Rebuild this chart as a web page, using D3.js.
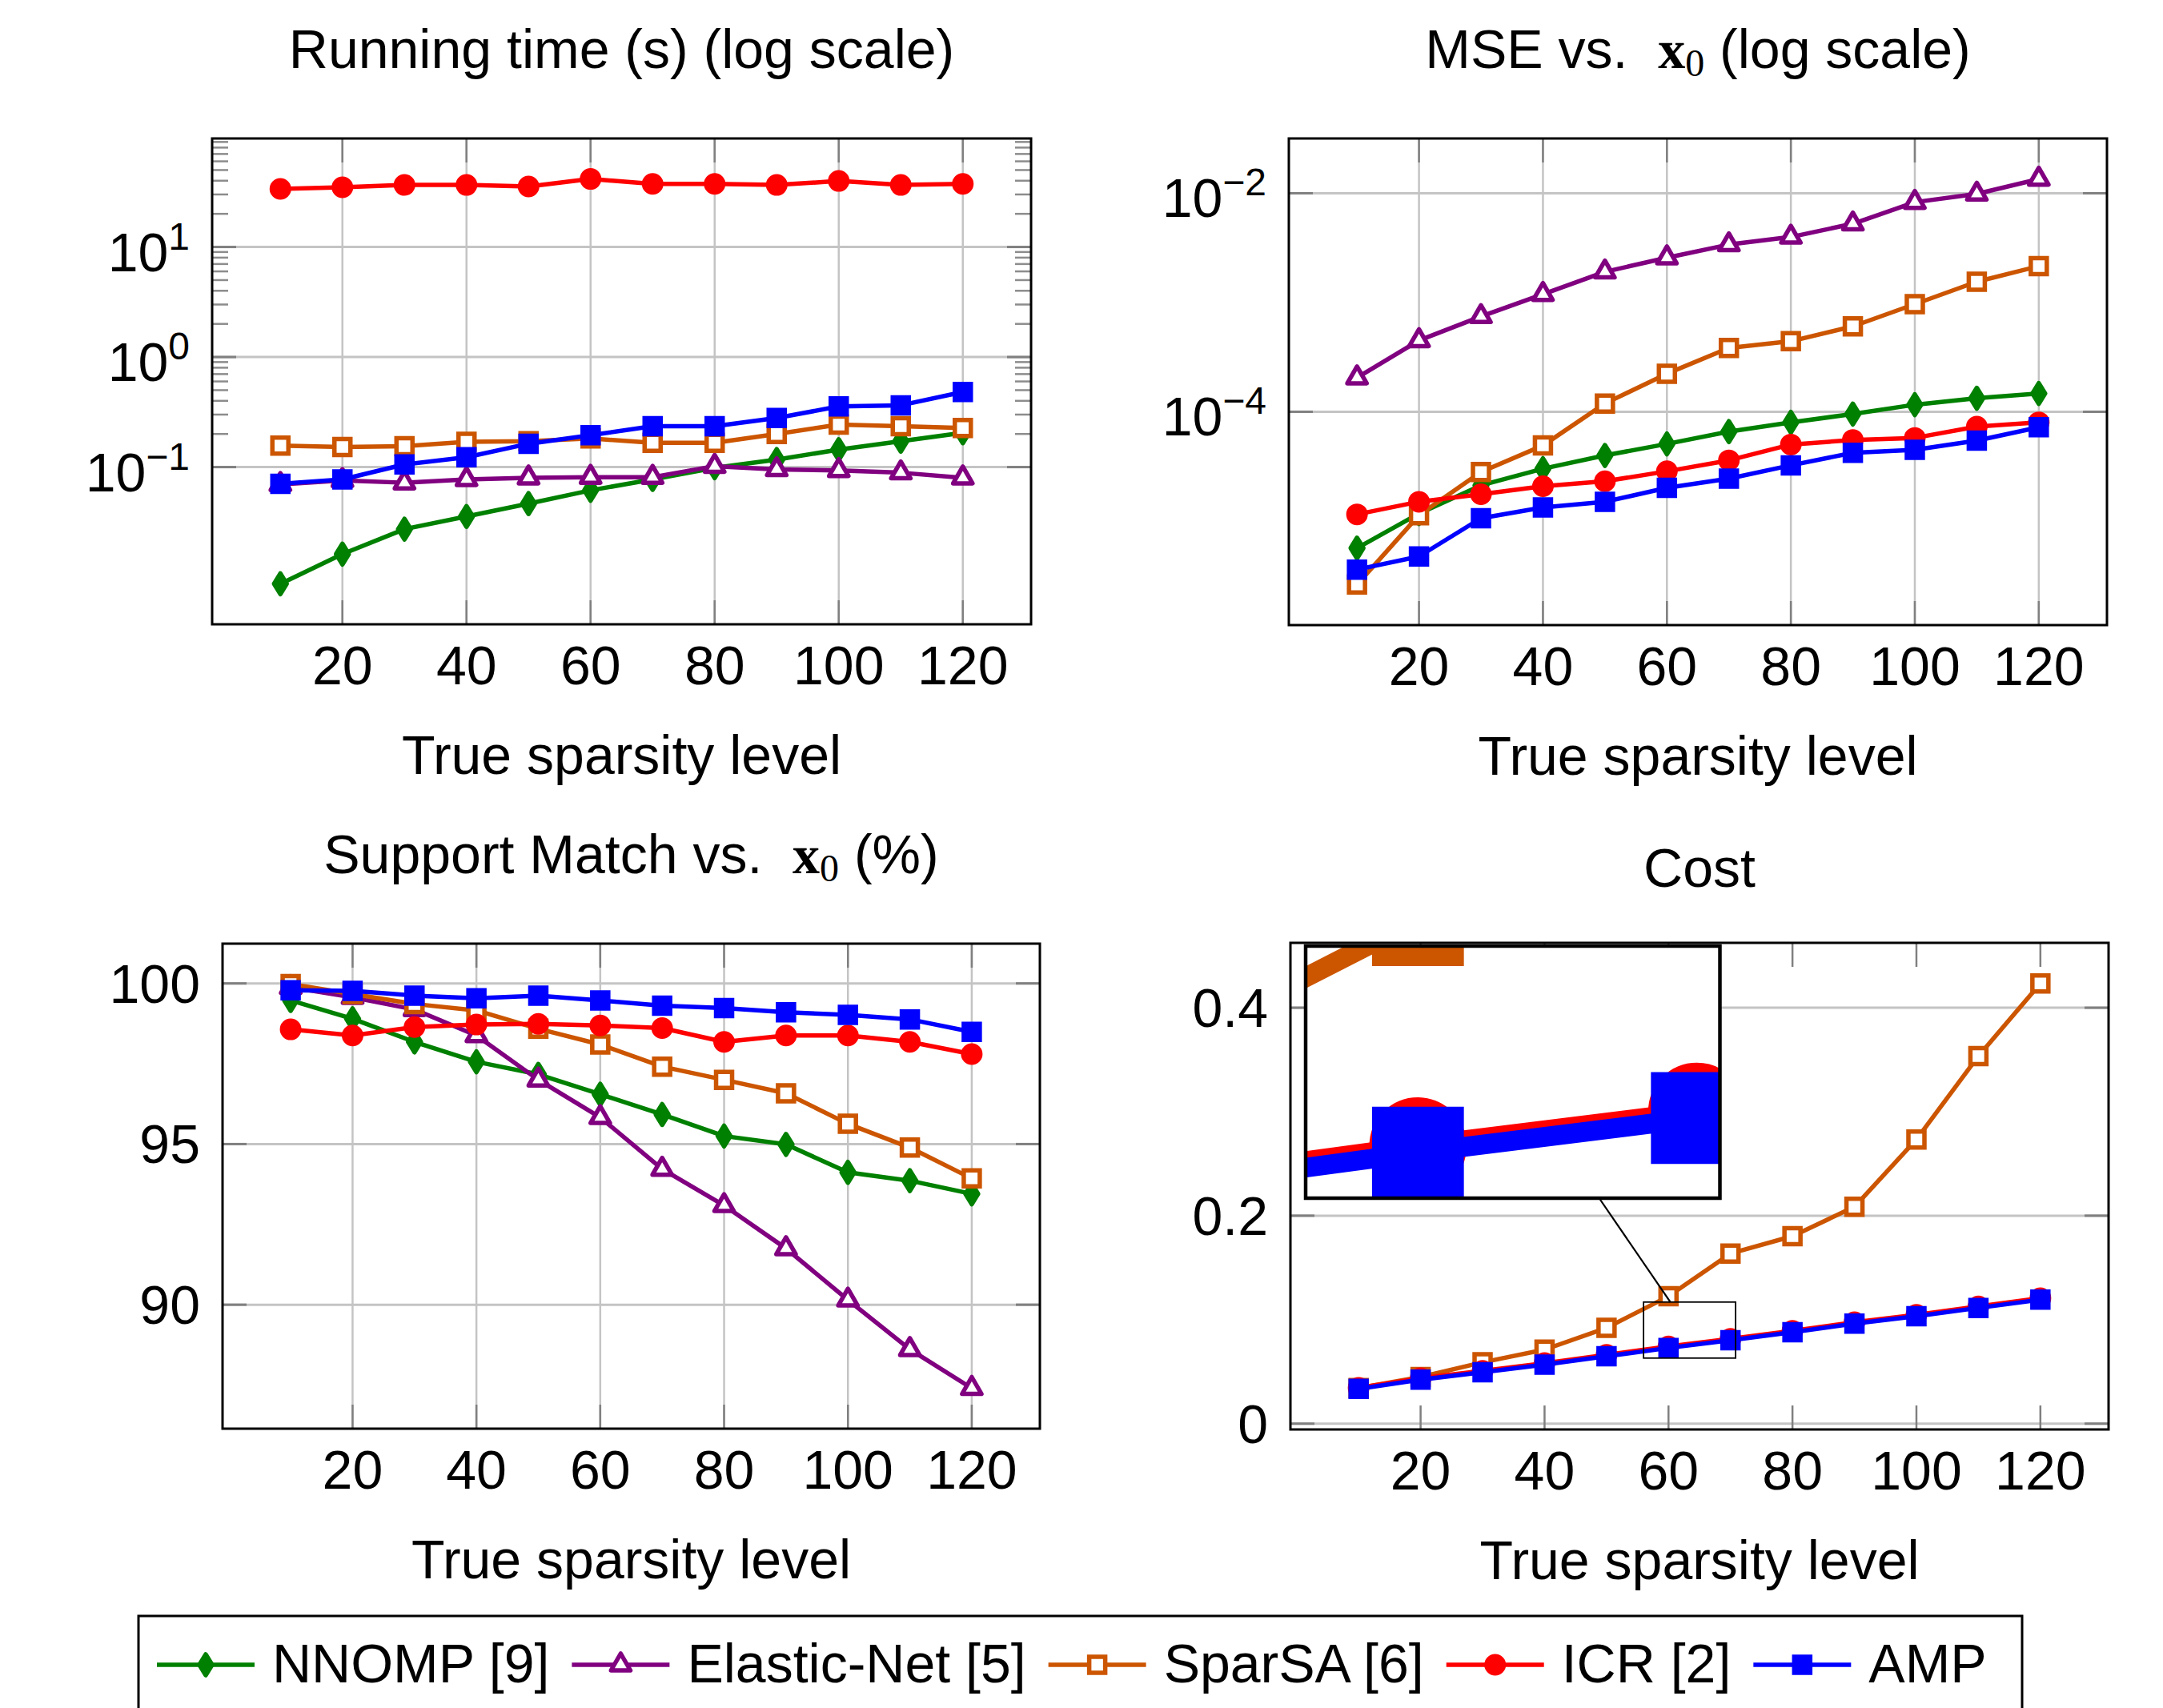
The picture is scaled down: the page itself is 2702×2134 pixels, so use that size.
<!DOCTYPE html>
<html>
<head>
<meta charset="utf-8">
<script src="https://d3js.org/d3.v7.min.js"></script>
<style>
  body { margin: 0; background: #fff; }
  text { font-family: "Liberation Sans", Arial, sans-serif; fill: #000; }
</style>
</head>
<body>
<script>
// ---- data ----
var sparsity = [10, 20, 30, 40, 50, 60, 70, 80, 90, 100, 110, 120];
var xTicks = [20, 40, 60, 80, 100, 120];

var methods = ["NNOMP [9]", "Elastic-Net [5]", "SparSA [6]", "ICR [2]", "AMP"];
var colors  = ["#008000", "#800080", "#cc5500", "#ff0000", "#0000ff"];
var marks   = ["diamond", "triangle", "square", "circle", "squareFilled"];

// running time (s)
var timeNNOMP   = [0.0087, 0.0162, 0.0273, 0.0356, 0.0466, 0.0615, 0.0773, 0.0986, 0.117, 0.144, 0.172, 0.205];
var timeElastic = [0.0697, 0.0757, 0.0721, 0.0773, 0.080, 0.081, 0.081, 0.102, 0.0952, 0.0933, 0.0889, 0.080];
var timeSparSA  = [0.157, 0.152, 0.155, 0.170, 0.172, 0.182, 0.166, 0.166, 0.200, 0.243, 0.235, 0.227];
var timeICR     = [33.7, 34.9, 36.6, 36.6, 35.4, 41.5, 37.4, 37.4, 36.6, 39.8, 36.6, 37.4];
var timeAMP     = [0.0706, 0.0773, 0.1057, 0.123, 0.163, 0.195, 0.235, 0.235, 0.279, 0.356, 0.364, 0.481];

// MSE vs x0
var mseNNOMP   = [5.65e-6, 1.17e-5, 2.12e-5, 3.01e-5, 3.98e-5, 5.08e-5, 6.58e-5, 8.0e-5, 9.53e-5, 1.16e-4, 1.33e-4, 1.47e-4];
var mseElastic = [2.05e-4, 4.49e-4, 7.46e-4, 1.19e-3, 1.91e-3, 2.57e-3, 3.39e-3, 3.98e-3, 5.26e-3, 8.28e-3, 9.86e-3, 1.35e-2];
var mseSparSA  = [2.62e-6, 1.13e-5, 2.81e-5, 4.91e-5, 1.19e-4, 2.23e-4, 3.84e-4, 4.42e-4, 6.05e-4, 9.66e-4, 1.55e-3, 2.15e-3];
var mseICR     = [1.15e-5, 1.50e-5, 1.76e-5, 2.08e-5, 2.31e-5, 2.85e-5, 3.59e-5, 5.01e-5, 5.52e-5, 5.76e-5, 7.31e-5, 8.0e-5];
var mseAMP     = [3.59e-6, 4.74e-6, 1.06e-5, 1.33e-5, 1.50e-5, 2.01e-5, 2.44e-5, 3.23e-5, 4.21e-5, 4.48e-5, 5.44e-5, 7.21e-5];

// support match (%)
var suppNNOMP   = [99.47, 98.90, 98.18, 97.56, 97.17, 96.55, 95.92, 95.25, 94.99, 94.12, 93.86, 93.45];
var suppElastic = [99.88, 99.57, 99.19, 98.38, 97.00, 95.83, 94.22, 93.09, 91.75, 90.15, 88.61, 87.40];
var suppSparSA  = [99.98, 99.67, 99.36, 99.16, 98.59, 98.10, 97.41, 97.00, 96.58, 95.63, 94.89, 93.93];
var suppICR     = [98.57, 98.38, 98.64, 98.72, 98.74, 98.69, 98.61, 98.18, 98.38, 98.38, 98.18, 97.80];
var suppAMP     = [99.79, 99.77, 99.62, 99.54, 99.62, 99.47, 99.31, 99.23, 99.10, 99.02, 98.88, 98.49];

// cost
var costSparSA = [0.0343, 0.0449, 0.059, 0.0712, 0.0921, 0.1225, 0.1636, 0.1803, 0.2085, 0.2733, 0.3535, 0.4234];
var costICR    = [0.0345, 0.0437, 0.0508, 0.0582, 0.0662, 0.0742, 0.0816, 0.0893, 0.0976, 0.1047, 0.1127, 0.1207];
var costAMP    = [0.0334, 0.0423, 0.0494, 0.0568, 0.0648, 0.0728, 0.0802, 0.0879, 0.0962, 0.1033, 0.1113, 0.1193];

var yTicksTime = [0.1, 1, 10];
var yTicksMSE  = [1e-4, 1e-2];
var yTicksSupp = [90, 95, 100];
var yTicksCost = [0, 0.2, 0.4];

// ---- drawing ----
var FS = 68, LW = 5.5;
var svg = d3.select("body").append("svg").attr("width", 2702).attr("height", 2134);

// pgfplots style 10% enlargement of limits
function enlarge(vals, log) {
  var lo = d3.min(vals), hi = d3.max(vals);
  if (log) { lo = Math.log10(lo); hi = Math.log10(hi); }
  var r = hi - lo;
  lo -= 0.1 * r; hi += 0.1 * r;
  return log ? [Math.pow(10, lo), Math.pow(10, hi)] : [lo, hi];
}

function markerPath(type) {
  if (type == "diamond") return "M0,-13L8,0L0,13L-8,0Z";
  if (type == "triangle") return "M0,-14L12.1,7L-12.1,7Z";
  if (type == "circle") return d3.symbol(d3.symbolCircle, Math.PI * 12 * 12)();
  return "M-10,-10H10V10H-10Z";
}
function isOpen(type) { return type == "triangle" || type == "square"; }

function drawMarker(g, type, color) {
  return g.append("path")
    .attr("d", markerPath(type))
    .attr("fill", isOpen(type) ? "#fff" : color)
    .attr("stroke", color)
    .attr("stroke-width", type == "circle" ? 3 : LW)
    .attr("stroke-linejoin", (type == "diamond" || type == "triangle") ? "round" : "miter");
}

function drawSeries(g, x, y, series) {
  series.forEach(function(s) {
    var line = d3.line().x(function(d, i) { return x(sparsity[i]); }).y(function(d) { return y(d); });
    g.append("path")
      .datum(s.values)
      .attr("d", line)
      .attr("fill", "none")
      .attr("stroke", colors[s.k])
      .attr("stroke-width", LW)
      .attr("stroke-linejoin", "round");
    s.values.forEach(function(v, i) {
      drawMarker(g, marks[s.k], colors[s.k])
        .attr("transform", "translate(" + x(sparsity[i]) + "," + y(v) + ")");
    });
  });
}

function panel(o) {
  var w = o.right - o.left, h = o.bottom - o.top;
  var g = svg.append("g").attr("transform", "translate(" + o.left + "," + o.top + ")");
  var x = d3.scaleLinear().domain(enlarge(sparsity, false)).range([0, w]);
  var all = [].concat.apply([], o.series.map(function(s) { return s.values; }));
  var y = (o.log ? d3.scaleLog() : d3.scaleLinear()).domain(enlarge(all, o.log)).range([h, 0]);

  // grid
  if (o.xGrid) {
    g.selectAll(".xg").data(xTicks).enter().append("line")
      .attr("x1", x).attr("x2", x).attr("y1", 0).attr("y2", h)
      .attr("stroke", "#c4c4c4").attr("stroke-width", 2.5);
  }
  g.selectAll(".yg").data(o.yTicks).enter().append("line")
    .attr("x1", 0).attr("x2", w).attr("y1", y).attr("y2", y)
    .attr("stroke", "#c4c4c4").attr("stroke-width", 3);

  // minor ticks (log)
  if (o.minor) {
    var minors = [];
    o.yTicks.forEach(function(t) { for (var m = 2; m <= 9; m++) minors.push(t * m); });
    minors = minors.filter(function(v) { return v > y.domain()[0] && v < y.domain()[1]; });
    [[0, 20], [w, w - 20]].forEach(function(p) {
      g.selectAll(null).data(minors).enter().append("line")
        .attr("x1", p[0]).attr("x2", p[1]).attr("y1", y).attr("y2", y)
        .attr("stroke", "#8c8c8c").attr("stroke-width", 2.5);
    });
  }
  // major ticks
  [[0, 30], [w, w - 30]].forEach(function(p) {
    g.selectAll(null).data(o.yTicks).enter().append("line")
      .attr("x1", p[0]).attr("x2", p[1]).attr("y1", y).attr("y2", y)
      .attr("stroke", "#808080").attr("stroke-width", 3);
  });
  [[h, h - 30], [0, 30]].forEach(function(p) {
    g.selectAll(null).data(xTicks).enter().append("line")
      .attr("x1", x).attr("x2", x).attr("y1", p[0]).attr("y2", p[1])
      .attr("stroke", "#808080").attr("stroke-width", 2.5);
  });

  drawSeries(g, x, y, o.series);

  // frame
  g.append("rect").attr("width", w).attr("height", h)
    .attr("fill", "none").attr("stroke", "#000").attr("stroke-width", 3);

  // x tick labels
  g.selectAll(".xl").data(xTicks).enter().append("text")
    .attr("x", x).attr("y", h + 75)
    .attr("text-anchor", "middle").attr("font-size", FS)
    .text(function(d) { return d; });

  // y tick labels
  g.selectAll(".yl").data(o.yTicks).enter().append("text")
    .attr("x", -28).attr("y", function(d) { return y(d) + (o.log ? 30 : 24); })
    .attr("text-anchor", "end").attr("font-size", FS)
    .each(function(d) {
      var t = d3.select(this);
      if (o.log) {
        var e = Math.round(Math.log10(d));
        t.append("tspan").text("10");
        t.append("tspan").attr("dy", -27).attr("font-size", 48)
          .text(e < 0 ? "\u2212" + (-e) : String(e));
      } else {
        t.text(d);
      }
    });

  // x label
  g.append("text").attr("x", w / 2).attr("y", h + 187)
    .attr("text-anchor", "middle").attr("font-size", FS)
    .text("True sparsity level");

  // title
  var tt = g.append("text").attr("x", w / 2).attr("y", o.titleY)
    .attr("text-anchor", "middle").attr("font-size", FS);
  o.title.forEach(function(p) {
    var s = tt.append("tspan").text(p.t);
    if (p.serif) s.style("font-family", "'Liberation Serif', serif");
    if (p.bold) s.attr("font-weight", "bold");
    if (p.dy) s.attr("dy", p.dy);
    if (p.fs) s.attr("font-size", p.fs);
  });

  return { g: g, x: x, y: y, w: w, h: h };
}

function xo(pre, post) {
  return [
    { t: pre },
    { t: "x", serif: true, bold: true },
    { t: "0", serif: true, dy: 10, fs: 48 },
    { t: post, dy: -10 }
  ];
}

panel({
  left: 265, right: 1288, top: 173, bottom: 780, log: true, minor: true, xGrid: true,
  yTicks: yTicksTime, titleY: -88,
  title: [{ t: "Running time (s) (log scale)" }],
  series: [
    { k: 0, values: timeNNOMP }, { k: 1, values: timeElastic }, { k: 2, values: timeSparSA },
    { k: 3, values: timeICR }, { k: 4, values: timeAMP }
  ]
});

panel({
  left: 1610, right: 2632, top: 173, bottom: 781, log: true, minor: false, xGrid: true,
  yTicks: yTicksMSE, titleY: -88,
  title: xo("MSE vs.\u00a0\u00a0", " (log scale)"),
  series: [
    { k: 0, values: mseNNOMP }, { k: 1, values: mseElastic }, { k: 2, values: mseSparSA },
    { k: 3, values: mseICR }, { k: 4, values: mseAMP }
  ]
});

panel({
  left: 278, right: 1299, top: 1179, bottom: 1785, log: false, xGrid: true,
  yTicks: yTicksSupp, titleY: -88,
  title: xo("Support Match vs.\u00a0\u00a0", " (%)"),
  series: [
    { k: 0, values: suppNNOMP }, { k: 1, values: suppElastic }, { k: 2, values: suppSparSA },
    { k: 3, values: suppICR }, { k: 4, values: suppAMP }
  ]
});

var costSeries = [{ k: 2, values: costSparSA }, { k: 3, values: costICR }, { k: 4, values: costAMP }];
var cost = panel({
  left: 1612, right: 2634, top: 1178, bottom: 1786, log: false, xGrid: false,
  yTicks: yTicksCost, titleY: -70,
  title: [{ t: "Cost" }],
  series: costSeries
});

// ---- magnifier (spy) on the cost plot ----
var spy = { cx: 63.4, cy: 0.090, w: 115, h: 70, mag: 4.5, left: 19, top: 4 };
var sx = cost.x(spy.cx), sy = cost.y(spy.cy);
var iw = spy.w * spy.mag, ih = spy.h * spy.mag;
var icx = spy.left + iw / 2, icy = spy.top + ih / 2;

cost.g.append("rect")
  .attr("x", sx - spy.w / 2).attr("y", sy - spy.h / 2)
  .attr("width", spy.w).attr("height", spy.h)
  .attr("fill", "none").attr("stroke", "#000").attr("stroke-width", 1.8);

// connecting line between the two frames, along the centre line
function exitPoint(cx, cy, hw, hh, dx, dy) {
  var t = Math.min(hw / Math.abs(dx), hh / Math.abs(dy));
  return [cx + dx * t, cy + dy * t];
}
var ddx = icx - sx, ddy = icy - sy;
var p1 = exitPoint(sx, sy, spy.w / 2, spy.h / 2, ddx, ddy);
var p2 = exitPoint(icx, icy, iw / 2, ih / 2, -ddx, -ddy);
cost.g.append("line")
  .attr("x1", p1[0]).attr("y1", p1[1]).attr("x2", p2[0]).attr("y2", p2[1])
  .attr("stroke", "#000").attr("stroke-width", 2.2);

svg.append("defs").append("clipPath").attr("id", "spyclip")
  .append("rect").attr("x", spy.left).attr("y", spy.top).attr("width", iw).attr("height", ih);
var inset = cost.g.append("g").attr("clip-path", "url(#spyclip)");
inset.append("rect").attr("x", spy.left).attr("y", spy.top).attr("width", iw).attr("height", ih).attr("fill", "#fff");
var zoomed = inset.append("g")
  .attr("transform", "translate(" + icx + "," + icy + ") scale(" + spy.mag + ") translate(" + (-sx) + "," + (-sy) + ")");
drawSeries(zoomed, cost.x, cost.y, costSeries);
cost.g.append("rect").attr("x", spy.left).attr("y", spy.top).attr("width", iw).attr("height", ih)
  .attr("fill", "none").attr("stroke", "#000").attr("stroke-width", 4.5);

// ---- legend ----
var lg = svg.append("g");
lg.append("rect").attr("x", 173).attr("y", 2019).attr("width", 2353).attr("height", 200)
  .attr("fill", "#fff").attr("stroke", "#000").attr("stroke-width", 3);
var lx = 196, ly = 2080;
methods.forEach(function(name, k) {
  lg.append("line").attr("x1", lx).attr("x2", lx + 122).attr("y1", ly).attr("y2", ly)
    .attr("stroke", colors[k]).attr("stroke-width", LW);
  drawMarker(lg, marks[k], colors[k]).attr("transform", "translate(" + (lx + 61) + "," + ly + ")");
  var t = lg.append("text").attr("x", lx + 144).attr("y", ly + 22).attr("font-size", FS).text(name);
  lx += 144 + t.node().getComputedTextLength() + 28;
});
</script>
</body>
</html>
